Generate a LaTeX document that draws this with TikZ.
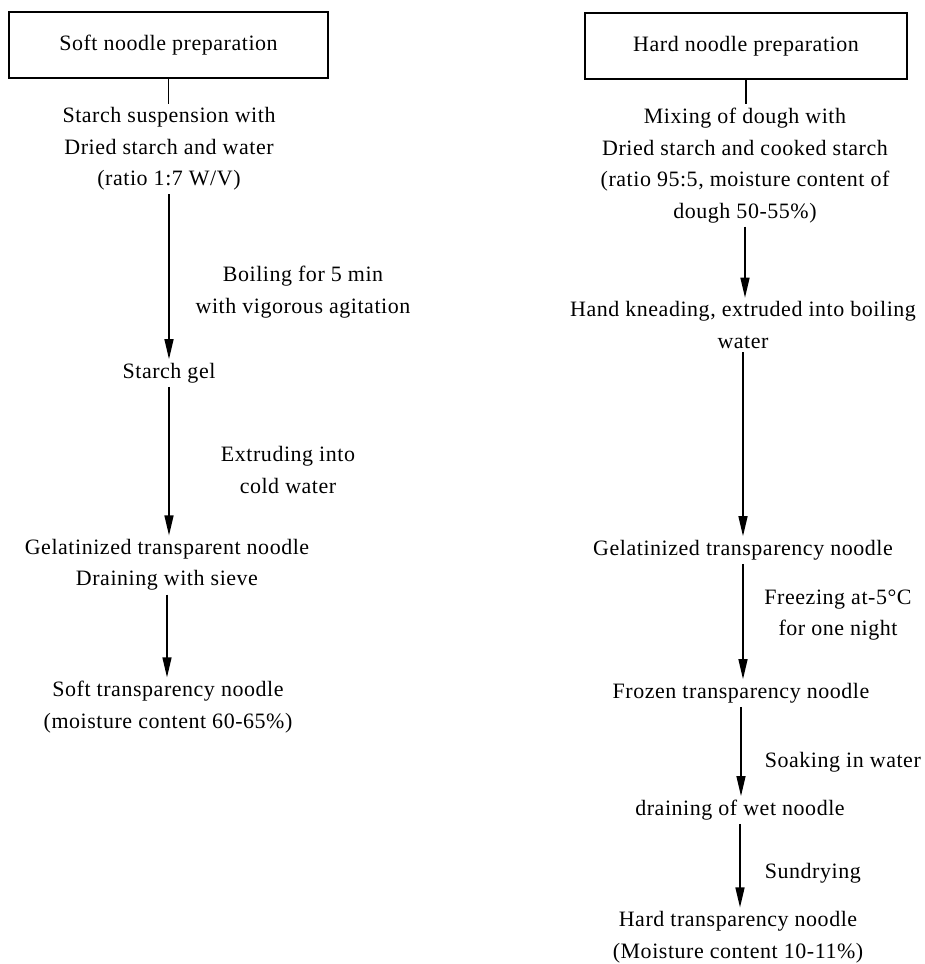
\documentclass[tikz,border=0pt]{standalone}
\usepackage{fontspec}
\setmainfont[LetterSpace=2.5]{Liberation Serif}
\usetikzlibrary{arrows.meta}
\tikzset{
  txt/.style={align=center,inner sep=2pt,font=\fontsize{12.5}{17.9}\selectfont},
  titlebox/.style={draw,line width=0.8pt,minimum height=1.32cm,font=\fontsize{12.5}{17.9}\selectfont},
  flow/.style={line width=0.8pt,-{Triangle[length=0.4cm,width=0.18cm]}},
  stem/.style={line width=0.8pt}
}
\begin{document}
\begin{tikzpicture}[x=0.02cm,y=-0.02cm]
\useasboundingbox (0,0) rectangle (924,964);
% soft noodle
\node (s0) at (168.5,45) [titlebox,minimum width=6.38cm] {Soft noodle preparation};
\node (s1) at (169,149) [txt] {Starch suspension with\\Dried starch and water\\(ratio 1:7 W/V)};
\node (s2) at (169,373) [txt] {Starch gel};
\node (s3) at (167,565) [txt] {Gelatinized transparent noodle\\Draining with sieve};
\node (s4) at (168,707) [txt] {Soft transparency noodle\\(moisture content 60-65\%)};
\node (sl1) at (303,292) [txt] {Boiling for 5 min\\with vigorous agitation};
\node (sl2) at (288,470) [txt] {Extruding into\\cold water};
\draw[stem] (s0) -- (s0 |- s1.north);
\draw[flow] (s1) -- (s1 |- s2.north);
\draw[flow] (s2) -- (s2 |- s3.north);
\draw[flow] (s3) -- (s3 |- s4.north);
% hard noodle
\node (h0) at (746,46) [titlebox,minimum width=6.44cm] {Hard noodle preparation};
\node (h1) at (745,165.5) [txt] {Mixing of dough with\\Dried starch and cooked starch\\(ratio 95:5, moisture content of\\dough 50-55\%)};
\node (h2) at (743,325) [txt] {Hand kneading, extruded into boiling\\water};
\node (h3) at (743,550) [txt] {Gelatinized transparency noodle};
\node (h4) at (741,693) [txt] {Frozen transparency noodle};
\node (h5) at (740,810) [txt] {draining of wet noodle};
\node (h6) at (738,937) [txt] {Hard transparency noodle\\(Moisture content 10-11\%)};
\node (hl1) at (838,615) [txt] {Freezing at-5°C\\for one night};
\node (hl2) at (761,762) [txt,anchor=west] {Soaking in water};
\node (hl3) at (761,873) [txt,anchor=west] {Sundrying};
\draw[stem] (h0) -- (h0 |- h1.north);
\draw[flow] (h1) -- (h1 |- h2.north);
\draw[flow] (h2) -- (h2 |- h3.north);
\draw[flow] (h3) -- (h3 |- h4.north);
\draw[flow] (h4) -- (h4 |- h5.north);
\draw[flow] (h5) -- (h5 |- h6.north);
\end{tikzpicture}
\end{document}
